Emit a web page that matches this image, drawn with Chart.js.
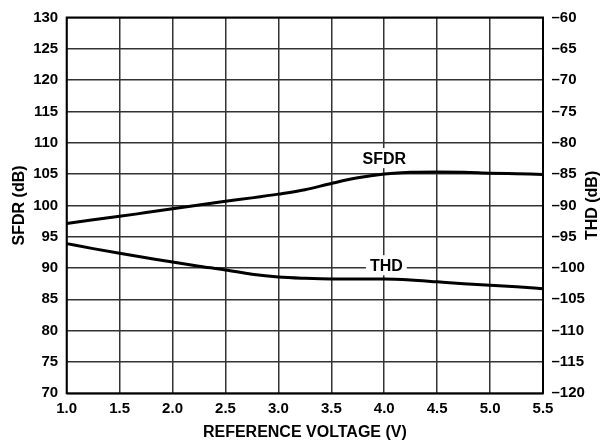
<!DOCTYPE html>
<html>
<head>
<meta charset="utf-8">
<title>SFDR and THD vs Reference Voltage</title>
<script src="https://cdn.jsdelivr.net/npm/chart.js@4.4.0/dist/chart.umd.min.js"></script>
<style>
  html, body { margin: 0; padding: 0; background: #fff; }
</style>
</head>
<body>
<canvas id="chart" width="600" height="446"></canvas>
<script>
// reference voltage (V)
const voltage = [1.0, 1.25, 1.5, 1.75, 2.0, 2.25, 2.5, 2.75, 3.0, 3.25,
                 3.5, 3.75, 4.0, 4.25, 4.5, 4.75, 5.0, 5.25, 5.5];
// SFDR (dB), left axis
const sfdr = [97.1, 97.7, 98.25, 98.85, 99.45, 100.05, 100.65, 101.2, 101.8, 102.5,
              103.5, 104.4, 105.0, 105.3, 105.35, 105.3, 105.15, 105.05, 104.95];
// THD (dB), right axis
const thd = [-96.1, -96.9, -97.65, -98.35, -99.05, -99.7, -100.3, -101.0, -101.45, -101.65,
             -101.75, -101.75, -101.75, -101.9, -102.2, -102.5, -102.75, -103.0, -103.3];

const xTicks = [1.0, 1.5, 2.0, 2.5, 3.0, 3.5, 4.0, 4.5, 5.0, 5.5];
const sfdrTicks = [70, 75, 80, 85, 90, 95, 100, 105, 110, 115, 120, 125, 130];
const thdTicks = [-120, -115, -110, -105, -100, -95, -90, -85, -80, -75, -70, -65, -60];

// curve names and where they sit (voltage, SFDR-axis dB)
const curveNames = ['SFDR', 'THD'];
const nameAt = [[4.0, 107.55], [4.02, 90.45]];

const FONT = '"Liberation Sans", Arial, Helvetica, sans-serif';

function setTicks(list) {
    return function(scale) {
        scale.ticks = list.map(v => ({ value: v }));
    };
}

const overlay = {
    id: 'overlay',
    beforeDatasetsDraw(chart) {
        const ctx = chart.ctx;
        ctx.save();
        ctx.font = 'bold 16px ' + FONT;
        ctx.textAlign = 'center';
        ctx.textBaseline = 'middle';
        curveNames.forEach((name, i) => {
            const x = chart.scales.x.getPixelForValue(nameAt[i][0]);
            const y = chart.scales.y.getPixelForValue(nameAt[i][1]);
            const w = ctx.measureText(name).width + 8;
            ctx.fillStyle = '#fff';
            ctx.fillRect(x - w / 2, y - 10, w, 20);
            ctx.fillStyle = '#000';
            ctx.fillText(name, x, y + 1);
        });
        ctx.restore();
    },
    afterDatasetsDraw(chart) {
        const ctx = chart.ctx;
        const a = chart.chartArea;
        ctx.save();
        // frame round the plot
        ctx.strokeStyle = '#000';
        ctx.lineWidth = 2;
        ctx.strokeRect(a.left, a.top, a.right - a.left, a.bottom - a.top);

        // axis titles
        ctx.font = 'bold 16px ' + FONT;
        ctx.fillStyle = '#000';
        ctx.textAlign = 'center';
        ctx.textBaseline = 'middle';
        ctx.fillText('REFERENCE VOLTAGE (V)', (a.left + a.right) / 2, a.bottom + 39);
        const midY = (a.top + a.bottom) / 2;
        [['SFDR (dB)', 19], ['THD (dB)', 592]].forEach(([text, x]) => {
            ctx.save();
            ctx.translate(x, midY);
            ctx.rotate(-Math.PI / 2);
            ctx.fillText(text, 0, 1);
            ctx.restore();
        });
        ctx.restore();
    }
};

const tickFont = { family: FONT, size: 15, weight: 'bold' };

new Chart(document.getElementById('chart'), {
    type: 'line',
    data: {
        datasets: [{
            label: 'SFDR',
            data: voltage.map((v, i) => ({ x: v, y: sfdr[i] })),
            yAxisID: 'y',
            borderColor: '#000',
            borderWidth: 3,
            pointRadius: 0,
            cubicInterpolationMode: 'monotone'
        }, {
            label: 'THD',
            data: voltage.map((v, i) => ({ x: v, y: thd[i] })),
            yAxisID: 'y2',
            borderColor: '#000',
            borderWidth: 3,
            pointRadius: 0,
            cubicInterpolationMode: 'monotone'
        }]
    },
    options: {
        responsive: false,
        animation: false,
        layout: { padding: { top: 13.3, left: 0, right: 0, bottom: 0 } },
        plugins: {
            legend: { display: false },
            tooltip: { enabled: false }
        },
        scales: {
            x: {
                type: 'linear',
                min: 1.0,
                max: 5.5,
                afterBuildTicks: setTicks(xTicks),
                afterFit: s => { s.height = 52.7; },
                grid: { color: '#333', lineWidth: 1.5, drawTicks: false },
                border: { display: false },
                ticks: {
                    padding: 7,
                    color: '#000',
                    font: tickFont,
                    autoSkip: false,
                    maxRotation: 0,
                    callback: v => v.toFixed(1)
                }
            },
            y: {
                position: 'left',
                min: 70,
                max: 130,
                afterBuildTicks: setTicks(sfdrTicks),
                afterFit: s => { s.width = 66.7; },
                grid: { color: '#333', lineWidth: 1.5, drawTicks: false },
                border: { display: false },
                ticks: { padding: 8.5, color: '#000', font: tickFont, autoSkip: false }
            },
            y2: {
                position: 'right',
                min: -120,
                max: -60,
                afterBuildTicks: setTicks(thdTicks),
                afterFit: s => { s.width = 57; },
                grid: { display: false, drawTicks: false },
                border: { display: false },
                ticks: {
                    padding: 8.5,
                    color: '#000',
                    font: tickFont,
                    autoSkip: false,
                    callback: v => v < 0 ? '\u2013' + Math.abs(v) : v
                }
            }
        }
    },
    plugins: [overlay]
});
</script>
</body>
</html>
